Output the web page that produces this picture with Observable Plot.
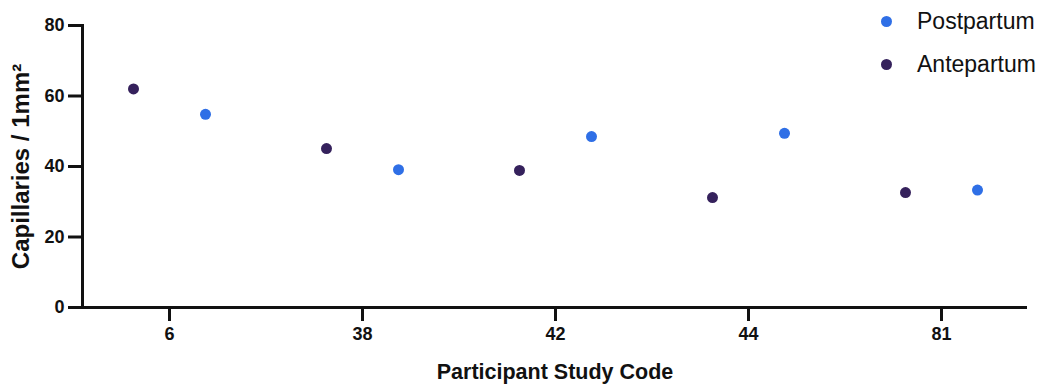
<!DOCTYPE html>
<html><head><meta charset="utf-8">
<script src="https://cdn.jsdelivr.net/npm/d3@7"></script>
<script src="https://cdn.jsdelivr.net/npm/@observablehq/plot@0.6"></script>
<style>
body{margin:0;background:#fff;font-family:"Liberation Sans",Arial,sans-serif;}
#wrap{position:relative;width:1042px;height:385px;}
#legend{position:absolute;left:881px;top:0px;font-size:23px;color:#111;}
#legend .row{display:flex;align-items:center;height:43px;}
#legend .sw{width:11px;height:11px;border-radius:50%;margin-right:25px;}
</style></head><body><div id="wrap"><div id="legend"></div></div>
<script>
const codes = ["6", "38", "42", "44", "81"];
const antepartum = [62, 45.1, 38.9, 31.2, 32.6];
const postpartum = [54.8, 39.1, 48.5, 49.4, 33.3];
const groups = ["Antepartum", "Postpartum"];
const groupColors = ["#35215c", "#2f6fe6"];
const legendOrder = ["Postpartum", "Antepartum"];
const yTicks = [0, 20, 40, 60, 80];

const rows = codes.flatMap((c, i) => [
  {code: c, group: "Antepartum", value: antepartum[i]},
  {code: c, group: "Postpartum", value: postpartum[i]}
]);

const font = "Liberation Sans, Arial, sans-serif";
const plot = Plot.plot({
  width: 1042, height: 385,
  marginLeft: 82, marginRight: 15, marginTop: 25, marginBottom: 78,
  style: {fontFamily: font, fontSize: "18px", fontWeight: "bold", color: "#111", background: "#fff"},
  x: {type: "point", domain: codes, padding: 0.44},
  y: {domain: [0, 80]},
  color: {domain: groups, range: groupColors},
  marks: [
    Plot.axisX({ticks: codes, tickSize: 14, tickPadding: 6, strokeWidth: 3, fontSize: 18, fontWeight: "bold", label: null, stroke: "#111", fill: "#111"}),
    Plot.axisY({ticks: yTicks, tickSize: 14, tickPadding: 4, strokeWidth: 3, fontSize: 18, fontWeight: "bold", label: null, stroke: "#111", fill: "#111"}),
    Plot.ruleY([0], {strokeWidth: 3, stroke: "#111"}),
    Plot.frame({anchor: "left", strokeWidth: 3, stroke: "#111"}),
    Plot.dot(rows.filter(d => d.group === "Antepartum"), {x: "code", y: "value", fill: "group", r: 5.5, dx: -36}),
    Plot.dot(rows.filter(d => d.group === "Postpartum"), {x: "code", y: "value", fill: "group", r: 5.5, dx: 36}),
    Plot.text(["Participant Study Code"], {frameAnchor: "bottom", textAnchor: "middle", lineAnchor: "middle", dy: 65, fontSize: 21.5, fontWeight: "bold", fill: "#111"}),
    Plot.text(["Capillaries / 1mm²"], {frameAnchor: "left", textAnchor: "middle", lineAnchor: "middle", rotate: -90, dx: -61, fontSize: 24, fontWeight: "bold", fill: "#111"})
  ]
});
document.getElementById("wrap").appendChild(plot);

const color = plot.scale("color");
const leg = document.getElementById("legend");
legendOrder.forEach(g => {
  const row = document.createElement("div");
  row.className = "row";
  const sw = document.createElement("span");
  sw.className = "sw";
  sw.style.background = groupColors[color.domain.indexOf(g)];
  const t = document.createElement("span");
  t.textContent = g;
  row.appendChild(sw); row.appendChild(t);
  leg.appendChild(row);
});
</script></body></html>
